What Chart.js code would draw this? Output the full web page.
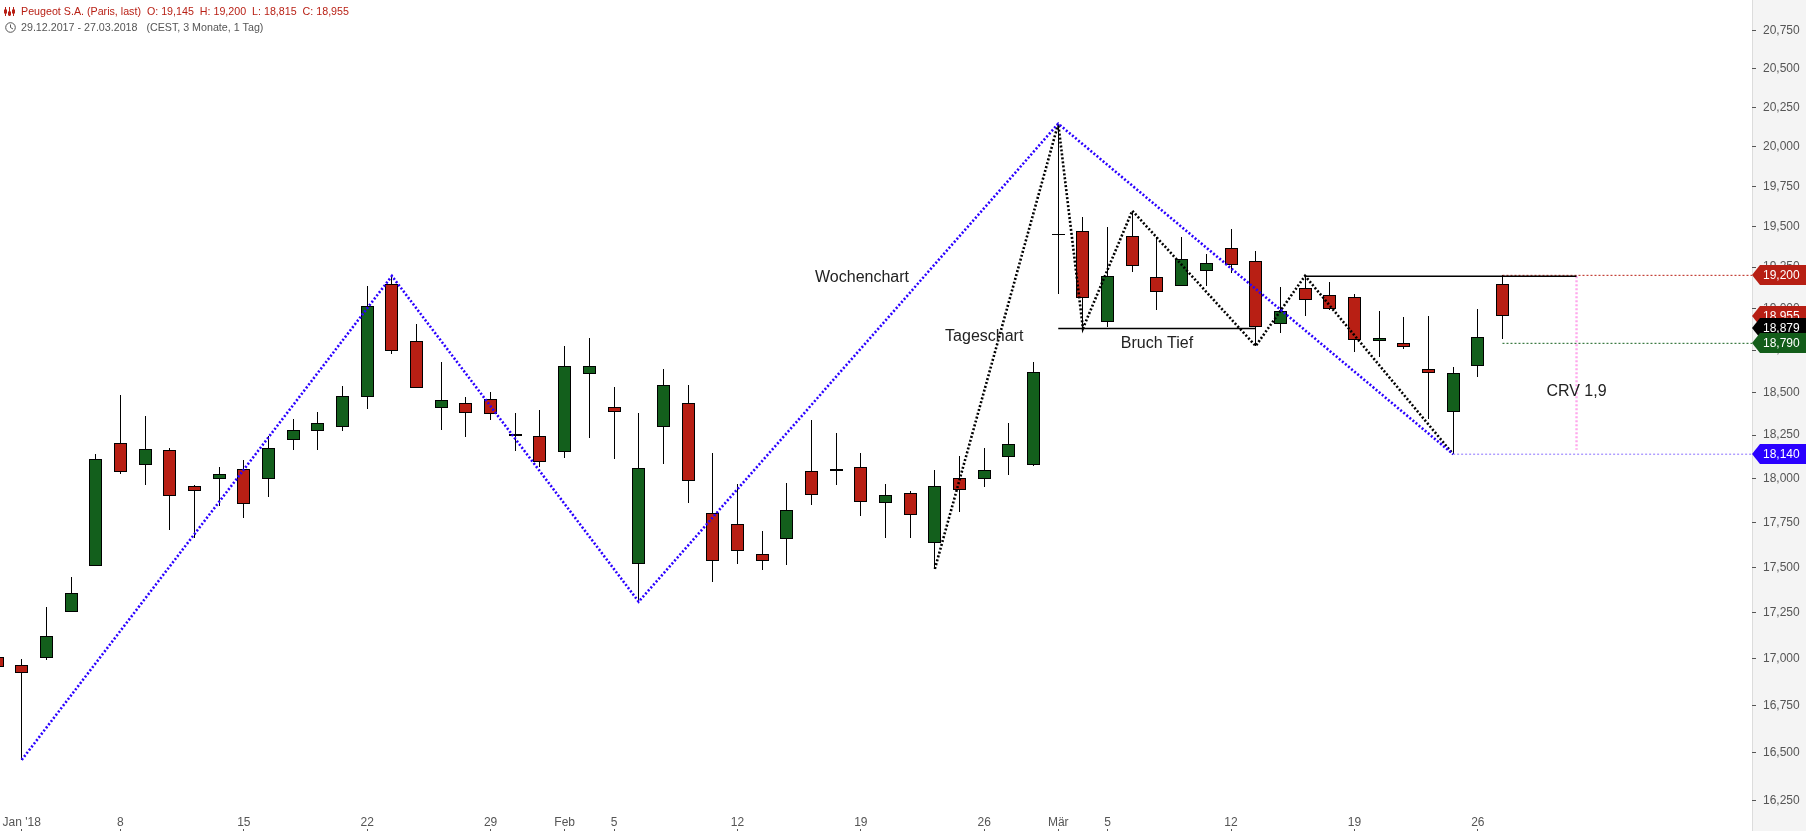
<!DOCTYPE html>
<html>
<head>
<meta charset="utf-8">
<title>Peugeot S.A.</title>
<style>
  html, body { margin: 0; padding: 0; background: #fff; }
  canvas { display: block; }
</style>
<script src="https://cdn.jsdelivr.net/npm/chart.js@4/dist/chart.umd.min.js"></script>
</head>
<body>
<canvas id="peugeotChart" width="1806" height="831"></canvas>
<script>
// one entry per trading day, 29.12.2017 - 27.03.2018
const opens = [17010,16965,17005,17252,17505,18203,18080,18163,17956,18000,18053,18000,18224,18276,18299,18474,19145,18802,18409,18435,18459,18256,18243,18154,18609,18411,17517,18296,18435,17803,17741,17572,17657,18042,18054,18065,17859,17919,17634,18002,17996,18124,18080,19455,19470,18919,19439,19188,19137,19228,19366,19286,18904,19121,19078,19067,18806,18790,18636,18386,18655,19145];
const highs = [17020,17000,17280,17445,18140,18485,18360,18176,17962,18065,18105,18245,18342,18383,18537,19135,19195,18906,18679,18472,18502,18377,18396,18774,18822,18531,18377,18636,18541,18145,17968,17702,17973,18337,18260,18145,17969,17927,18049,18130,18176,18319,18677,20147,19559,19497,19598,19437,19435,19330,19485,19349,19129,19197,19157,19087,18983,18947,18953,18649,18994,19200];
const lows = [16940,16460,16990,17252,17505,18025,17965,17710,17666,17845,17778,17897,18166,18164,18274,18402,18726,18524,18280,18241,18337,18160,18068,18120,18234,18114,17310,18085,17862,17420,17520,17487,17514,17851,17965,17789,17666,17666,17491,17812,17954,18022,18074,19089,18879,18887,19220,18989,19137,19135,19216,18774,18854,18955,18990,18740,18708,18758,18345,18140,18589,18815];
const closes = [16955,16920,17120,17357,18110,18040,18168,17903,17931,18025,17858,18174,18278,18319,18477,19012,18746,18524,18453,18381,18371,18246,18094,18653,18653,18386,18058,18542,17985,17533,17590,17533,17820,17904,18044,17864,17904,17792,17956,17934,18047,18196,18618,19450,19064,19194,19258,19100,19298,19273,19265,18889,18982,19052,18998,18812,18820,18770,18616,18612,18830,18955];

const dayTicks = [1,5,10,15,20,23,25,30,35,40,43,45,50,55,60];
const dayLabels = ["Jan '18","8","15","22","29","Feb","5","12","19","26","Mär","5","12","19","26"];
const priceTicks = [16250,16500,16750,17000,17250,17500,17750,18000,18250,18500,18750,19000,19250,19500,19750,20000,20250,20500,20750];

// drawn trend lines, day index + price
const weeklyDays = [1,16,26,43,59];
const weeklyPrices = [16462,19196,17310,20147,18140];
const dailyDays = [38,43,44,46,51,53,59];
const dailyPrices = [17491,20147,18879,19598,18774,19197,18140];
const breakDays = [43,51];
const breakPrices = [18879,18879];
const resistDays = [53,64];
const resistPrices = [19194,19194];
const crvDays = [64,64];
const crvPrices = [19194,18165];

const tagPrices = [19200,18955,18879,18790,18140];
const tagColors = ['#b71f14','#b71f14','#000000','#135d1a','#2a00ff'];

const noteTexts = ['Wochenchart','Tageschart','Bruch Tief','CRV 1,9'];
const noteDays = [35.05,40,47,64];
const notePrices = [19184,18832,18790,18502];

const RED = '#b81f14';
const GREEN = '#135f1c';
const BLUE = '#2a00ff';
const X_MIN = 0.1207, X_MAX = 71.11;
const Y_MIN = 16192, Y_MAX = 20954;
const FONT = '"Liberation Sans", Arial, sans-serif';

const days = opens.map((o, i) => i);

function linePoints(xs, ys) {
  return xs.map((x, i) => ({ x: x, y: ys[i] }));
}

function lineSet(xs, ys, color, width, dash) {
  return {
    type: 'line',
    order: 0,
    data: linePoints(xs, ys),
    borderColor: color,
    borderWidth: width,
    borderDash: dash,
    pointRadius: 0,
    tension: 0,
    fill: false
  };
}

// keeps candles on whole pixels, the original chart is not antialiased
const snapBars = {
  id: 'snapBars',
  afterDatasetsUpdate(chart) {
    chart.getSortedVisibleDatasetMetas().forEach(meta => {
      if (meta.type !== 'bar') return;
      meta.data.forEach(el => {
        el.x = Math.floor(el.x) + 0.5;
        el.y = Math.round(el.y);
        el.base = Math.round(el.base);
        if (el.y === el.base) el.base = el.y + 1;
      });
    });
  }
};

const priceStrip = {
  id: 'priceStrip',
  beforeDraw(chart) {
    const ctx = chart.ctx, a = chart.chartArea;
    ctx.save();
    ctx.fillStyle = '#ffffff';
    ctx.fillRect(0, 0, chart.width, chart.height);
    ctx.fillStyle = '#f4f4f4';
    ctx.fillRect(a.right, 0, chart.width - a.right, chart.height);
    ctx.fillStyle = '#dcdcdc';
    ctx.fillRect(a.right, 0, 1, chart.height);
    ctx.restore();
  }
};

const extras = {
  id: 'extras',
  afterDraw(chart) {
    const ctx = chart.ctx, xs = chart.scales.x, ys = chart.scales.y, a = chart.chartArea;
    ctx.save();

    // small day marks under the labels
    ctx.fillStyle = '#555555';
    dayTicks.forEach(d => ctx.fillRect(Math.floor(xs.getPixelForValue(d)), 829, 1, 2));

    // price tags on the axis
    ctx.font = '12px ' + FONT;
    ctx.textBaseline = 'middle';
    ctx.textAlign = 'left';
    tagPrices.forEach((p, i) => {
      const y = Math.round(ys.getPixelForValue(p));
      ctx.fillStyle = tagColors[i];
      ctx.beginPath();
      ctx.moveTo(a.right, y);
      ctx.lineTo(a.right + 8, y - 10);
      ctx.lineTo(chart.width, y - 10);
      ctx.lineTo(chart.width, y + 10);
      ctx.lineTo(a.right + 8, y + 10);
      ctx.closePath();
      ctx.fill();
      ctx.fillStyle = '#ffffff';
      ctx.fillText(p.toLocaleString('en-US'), a.right + 11, y + 0.5);
    });

    // notes on the chart
    ctx.font = '16px ' + FONT;
    ctx.textAlign = 'center';
    ctx.fillStyle = '#222222';
    noteTexts.forEach((t, i) => {
      ctx.fillText(t, xs.getPixelForValue(noteDays[i]), ys.getPixelForValue(notePrices[i]));
    });

    // header
    ctx.textAlign = 'left';
    ctx.textBaseline = 'alphabetic';
    ctx.font = '10.7px ' + FONT;
    ctx.fillStyle = RED;
    ctx.fillText('Peugeot S.A. (Paris, last)  O: 19,145  H: 19,200  L: 18,815  C: 18,955', 21, 15);
    ctx.fillStyle = '#555555';
    ctx.fillText('29.12.2017 - 27.03.2018   (CEST, 3 Monate, 1 Tag)', 21, 31);

    // header icons
    ctx.strokeStyle = RED;
    ctx.lineWidth = 1;
    [5.5, 9.5, 13.5].forEach((x, i) => {
      ctx.beginPath();
      ctx.moveTo(x, 7);
      ctx.lineTo(x, 16);
      ctx.stroke();
      ctx.strokeRect(x - 1, 10 + (i % 2) * 2, 2, 3);
    });
    ctx.strokeStyle = '#555555';
    ctx.beginPath();
    ctx.arc(10.5, 27.5, 4.8, 0, Math.PI * 2);
    ctx.moveTo(10.5, 24.5);
    ctx.lineTo(10.5, 27.5);
    ctx.lineTo(13, 29);
    ctx.stroke();

    ctx.restore();
  }
};

new Chart('peugeotChart', {
  type: 'bar',
  data: {
    datasets: [
      lineSet(weeklyDays, weeklyPrices, BLUE, 2.6, [2, 2]),
      lineSet(dailyDays, dailyPrices, '#000000', 2.6, [2, 2]),
      lineSet(breakDays, breakPrices, '#000000', 1.4, []),
      lineSet(resistDays, resistPrices, '#000000', 1.4, []),
      lineSet(crvDays, crvPrices, '#ffa8ec', 2.4, [2, 2]),
      lineSet([61, X_MAX], [19200, 19200], RED, 1, [2, 2]),
      lineSet([61, X_MAX], [18790, 18790], GREEN, 1, [2, 2]),
      lineSet([59, X_MAX], [18140, 18140], '#8a70ff', 1, [2, 2]),
      {
        // candle bodies
        type: 'bar',
        order: 1,
        grouped: false,
        data: days.map(i => ({ x: i, y: [opens[i], closes[i]] })),
        backgroundColor: days.map(i => closes[i] >= opens[i] ? GREEN : RED),
        borderColor: '#000000',
        borderWidth: 1,
        borderSkipped: false,
        inflateAmount: 0,
        barThickness: 13
      },
      {
        // high-low wicks
        type: 'bar',
        order: 2,
        grouped: false,
        data: days.map(i => ({ x: i, y: [lows[i], highs[i]] })),
        backgroundColor: '#000000',
        borderWidth: 0,
        inflateAmount: 0,
        barThickness: 1
      }
    ]
  },
  options: {
    responsive: false,
    animation: false,
    layout: { padding: 0 },
    plugins: {
      legend: { display: false },
      tooltip: { enabled: false }
    },
    scales: {
      x: {
        type: 'linear',
        offset: false,
        min: X_MIN,
        max: X_MAX,
        grid: { display: false, drawTicks: false, offset: false },
        border: { display: false },
        afterBuildTicks: scale => { scale.ticks = dayTicks.map(d => ({ value: d })); },
        afterFit: scale => {
          scale.height = 19;
          scale.paddingLeft = 0;
          scale.paddingRight = 0;
        },
        ticks: {
          autoSkip: false,
          maxRotation: 0,
          padding: 3,
          color: '#555555',
          font: { family: FONT, size: 12 },
          callback: value => dayLabels[dayTicks.indexOf(value)]
        }
      },
      y: {
        type: 'logarithmic',
        position: 'right',
        bounds: 'data',
        min: Y_MIN,
        max: Y_MAX,
        grid: { drawOnChartArea: false, tickLength: 4, tickColor: '#555555' },
        border: { display: false },
        afterBuildTicks: scale => {
          scale.ticks = priceTicks.map(p => ({ value: p }));
          scale.min = Y_MIN;
          scale.max = Y_MAX;
        },
        afterFit: scale => {
          scale.width = 54;
          scale.paddingTop = 0;
          scale.paddingBottom = 0;
        },
        ticks: {
          autoSkip: false,
          padding: 7,
          color: '#555555',
          font: { family: FONT, size: 12 },
          callback: value => value.toLocaleString('en-US')
        }
      }
    }
  },
  plugins: [priceStrip, snapBars, extras]
});
</script>
</body>
</html>
